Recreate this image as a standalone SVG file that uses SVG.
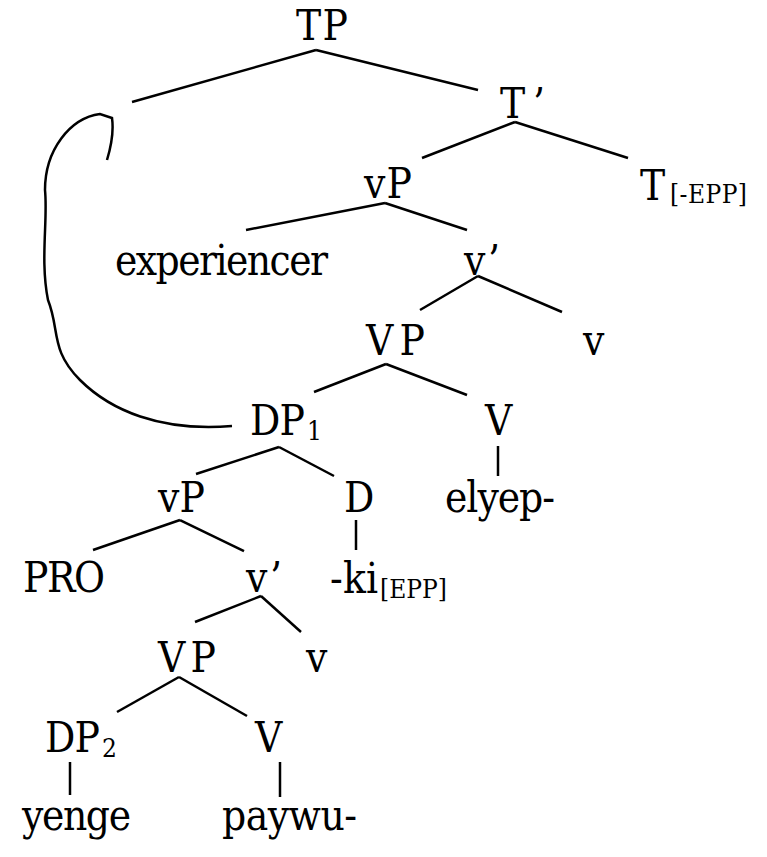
<svg xmlns="http://www.w3.org/2000/svg" width="767" height="857" viewBox="0 0 767 857">
<style>
text{font-family:"DejaVu Serif Condensed","DejaVu Serif","Liberation Serif",serif;font-stretch:condensed;font-size:42px;fill:#000}
.s{font-size:26px}
line,path{stroke:#000;stroke-width:2.5;fill:none}
</style>
<rect width="767" height="857" fill="#fff"/>
<g id="connectors">
<line x1="132" y1="102" x2="316" y2="50"/><line x1="316" y1="50" x2="478" y2="90"/>
<line x1="422" y1="158" x2="515" y2="122"/><line x1="515" y1="122" x2="628" y2="158"/>
<line x1="246" y1="230" x2="385" y2="203"/><line x1="385" y1="203" x2="467" y2="230"/>
<line x1="420" y1="310" x2="478" y2="276"/><line x1="478" y1="276" x2="562" y2="312"/>
<line x1="314" y1="392" x2="386" y2="364"/><line x1="386" y1="364" x2="467" y2="395"/>
<line x1="498" y1="446" x2="498" y2="476"/>
<line x1="196" y1="474" x2="279" y2="447"/><line x1="279" y1="447" x2="334" y2="476"/>
<line x1="356" y1="520" x2="356" y2="550"/>
<line x1="93" y1="550" x2="180" y2="520"/><line x1="180" y1="520" x2="244" y2="551"/>
<line x1="195" y1="622" x2="261" y2="596"/><line x1="261" y1="596" x2="301" y2="632"/>
<line x1="117" y1="712" x2="179" y2="677"/><line x1="179" y1="677" x2="247" y2="716"/>
<line x1="70" y1="762" x2="70" y2="795"/><line x1="280" y1="762" x2="280" y2="797"/>
<path d="M232,426 C160,432 110,410 80,380 C50,350 60,330 48,300 C40,260 48,220 45,190 C45,150 70,118 100,114 L112,118 C114,132 110,150 107,160"/>
</g>
<g id="TP"><text x="296" y="40" textLength="52">TP</text></g>
<g id="Tbar"><text x="500" y="118" textLength="45">T’</text></g>
<g id="vP1"><text x="364" y="198" textLength="48">vP</text></g>
<g id="T"><text x="640" y="200" textLength="28">T</text><text class="s" x="670" y="203" textLength="77">[-EPP]</text></g>
<g id="experiencer"><text x="115" y="275" textLength="213">experiencer</text></g>
<g id="vbar1"><text x="464" y="275" textLength="36">v’</text></g>
<g id="VP1"><text x="366" y="355" textLength="59">VP</text></g>
<g id="v1"><text x="583" y="355" textLength="21">v</text></g>
<g id="DP1"><text x="250" y="435" textLength="55">DP</text><text class="s" x="307" y="440" textLength="15">1</text></g>
<g id="V1"><text x="485" y="435" textLength="27">V</text></g>
<g id="elyep"><text x="445" y="512" textLength="110">elyep-</text></g>
<g id="vP2"><text x="158" y="512" textLength="47">vP</text></g>
<g id="D"><text x="344" y="512" textLength="26">D</text></g>
<g id="ki"><text x="330" y="593" textLength="48">-ki</text><text class="s" x="380" y="598" textLength="67">[EPP]</text></g>
<g id="PRO"><text x="23" y="592" textLength="82">PRO</text></g>
<g id="vbar2"><text x="246" y="592" textLength="36">v’</text></g>
<g id="VP2"><text x="158" y="672" textLength="58">VP</text></g>
<g id="v2"><text x="306" y="672" textLength="22">v</text></g>
<g id="DP2"><text x="45" y="752" textLength="55">DP</text><text class="s" x="102" y="757" textLength="14">2</text></g>
<g id="V2"><text x="255" y="752" textLength="27">V</text></g>
<g id="yenge"><text x="22" y="830" textLength="109">yenge</text></g>
<g id="paywu"><text x="222" y="830" textLength="135">paywu-</text></g>
</svg>
